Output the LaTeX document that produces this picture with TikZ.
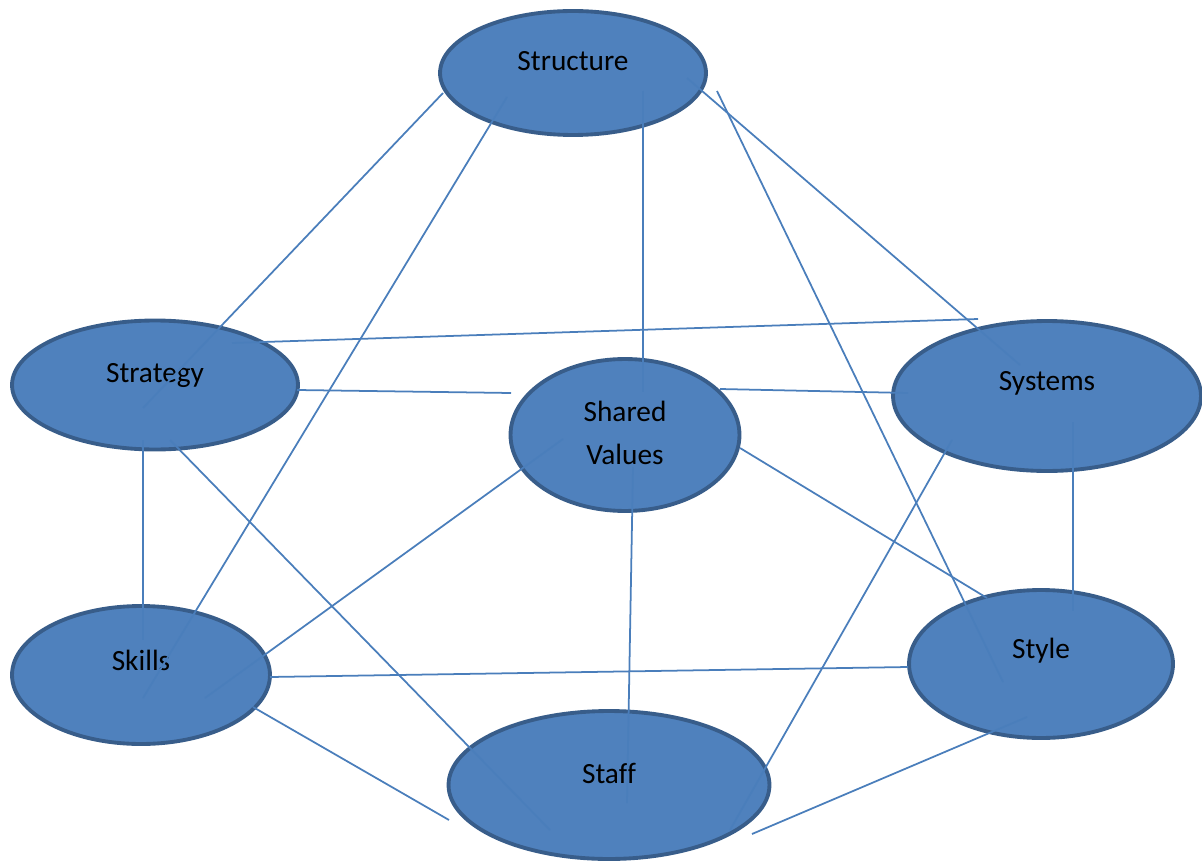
\documentclass[tikz,border=0pt]{standalone}
\usepackage{fontspec}
\setmainfont{Carlito}
\usetikzlibrary{shapes.geometric,calc}
\definecolor{sfill}{HTML}{4F81BD}
\definecolor{sedge}{HTML}{385D8A}
\definecolor{sline}{HTML}{4A7EBB}
\tikzset{
  ell/.style={ellipse,draw=sedge,fill=sfill,line width=2.2pt,inner sep=0pt},
  txt/.style={font=\fontsize{16.7}{24}\selectfont,align=center,text=black},
  link/.style={draw=sline,line width=1pt}
}
\begin{document}
\begin{tikzpicture}[x=0.02cm,y=-0.02cm]
\useasboundingbox (0,0) rectangle (1202,861);
\node[ell,minimum width=5.32cm,minimum height=2.48cm,label={[txt,yshift=0.23cm]center:Structure}](Str) at (573,73){};
\node[ell,minimum width=5.72cm,minimum height=2.58cm,label={[txt,yshift=0.20cm]center:Strategy}](Stg) at (155,385){};
\node[ell,minimum width=4.58cm,minimum height=3.04cm,label={[txt,yshift=0.04cm]center:{Shared\\Values}}](SV) at (625,435){};
\node[ell,minimum width=6.16cm,minimum height=3.00cm,label={[txt,yshift=0.26cm]center:Systems}](Sys) at (1047,396){};
\node[ell,minimum width=5.16cm,minimum height=2.76cm,label={[txt,yshift=0.30cm]center:Skills}](Sk) at (141,675){};
\node[ell,minimum width=5.28cm,minimum height=2.96cm,label={[txt,yshift=0.26cm]center:Style}](Sty) at (1041,664){};
\node[ell,minimum width=6.42cm,minimum height=2.96cm,label={[txt,yshift=0.24cm]center:Staff}](Sf) at (609,785){};
% links between the seven elements
\draw[link] ($(Str)+(-130,20)$) -- ($(Stg)+(-12,23)$);
\draw[link] ($(Str)+(-66,24)$) -- ($(Sk)+(2,23)$);
\draw[link] ($(Str)+(70,18)$) -- ($(SV)+(18,-43)$);
\draw[link] ($(Str)+(114,5)$) -- ($(Sys)+(-27,-31)$);
\draw[link] ($(Str)+(144,18)$) -- ($(Sty)+(-38,18)$);
\draw[link] ($(Stg)+(77,-42)$) -- ($(Sys)+(-69,-77)$);
\draw[link] ($(Stg)+(142,5)$) -- ($(SV)+(-114,-42)$);
\draw[link] ($(Stg)+(-12,55)$) -- ($(Sk)+(2,-35)$);
\draw[link] ($(Stg)+(15,55)$) -- ($(Sf)+(-59,45)$);
\draw[link] ($(SV)+(95,-46)$) -- ($(Sys)+(-139,-3)$);
\draw[link] ($(SV)+(115,13)$) -- ($(Sty)+(-54,-66)$);
\draw[link] ($(SV)+(-62,4)$) -- ($(Sk)+(64,23)$);
\draw[link] ($(SV)+(8,32)$) -- ($(Sf)+(18,18)$);
\draw[link] ($(Sys)+(26,26)$) -- ($(Sty)+(32,-53)$);
\draw[link] ($(Sys)+(-95,44)$) -- ($(Sf)+(121,45)$);
\draw[link] ($(Sk)+(129,2)$) -- ($(Sty)+(-133,3)$);
\draw[link] ($(Sk)+(112,32)$) -- ($(Sf)+(-160,35)$);
\draw[link] ($(Sty)+(-14,53)$) -- ($(Sf)+(143,49)$);
\end{tikzpicture}
\end{document}
